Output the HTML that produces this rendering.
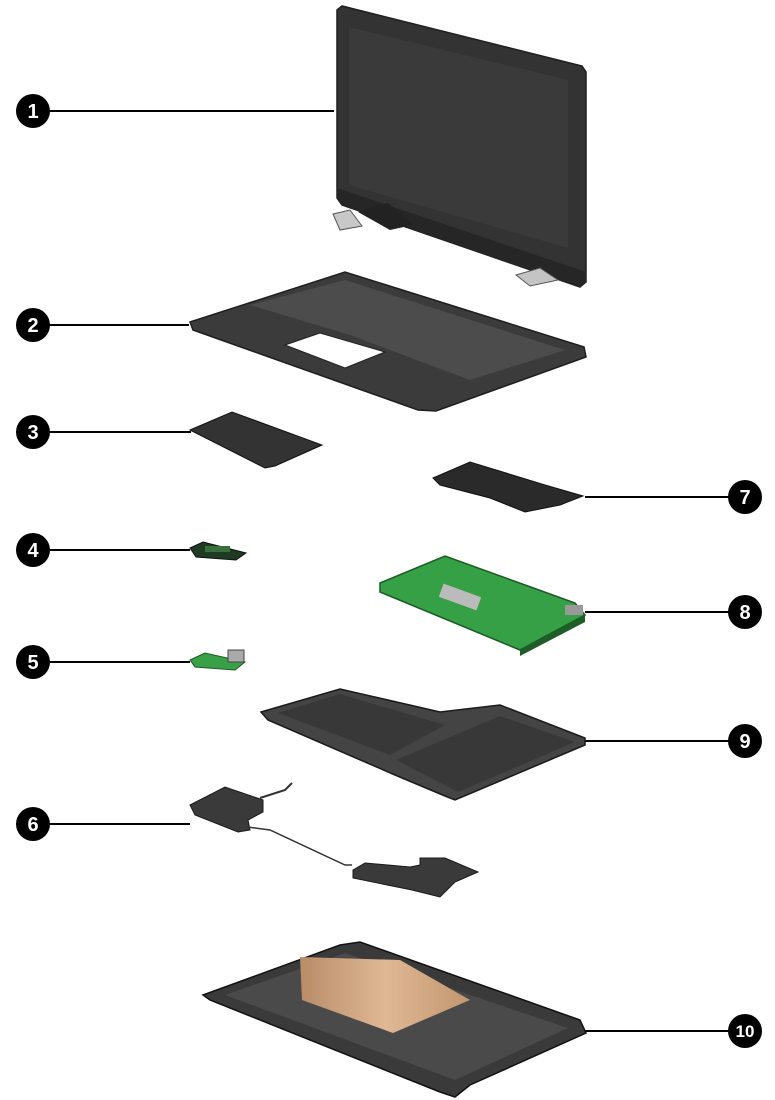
<!DOCTYPE html>
<html><head><meta charset="utf-8"><style>
html,body{margin:0;padding:0;background:#fff;}
svg{display:block;}
text{font-family:"Liberation Sans",sans-serif;font-weight:bold;fill:#fff;text-anchor:middle;}
</style></head><body>
<svg width="775" height="1100" viewBox="0 0 775 1100" xmlns="http://www.w3.org/2000/svg">
<defs>
<linearGradient id="cu" x1="0" y1="0" x2="1" y2="0"><stop offset="0" stop-color="#b98c68"/><stop offset="0.5" stop-color="#e0b894"/><stop offset="1" stop-color="#c29670"/></linearGradient>
</defs>
<g stroke="#000" stroke-width="2">
<line x1="40" y1="111" x2="334" y2="111"/>
<line x1="40" y1="325" x2="189" y2="325"/>
<line x1="40" y1="432" x2="191" y2="432"/>
<line x1="40" y1="550" x2="190" y2="550"/>
<line x1="40" y1="662" x2="190" y2="662"/>
<line x1="40" y1="824" x2="190" y2="824"/>
<line x1="585" y1="497" x2="735" y2="497"/>
<line x1="585" y1="612" x2="735" y2="612"/>
<line x1="585" y1="741" x2="735" y2="741"/>
<line x1="585" y1="1031" x2="735" y2="1031"/>
</g>
<!-- 1 display -->
<polygon points="337,10 342,6 582,66 586,72 586,282 580,287 342,205 337,198" fill="#333" stroke="#1e1e1e" stroke-width="1.5"/>
<polygon points="349,27 568,80 568,248 349,185" fill="#3a3a3a"/>
<polygon points="337,198 342,205 580,287 586,282 586,272 337,188" fill="#262626"/>
<polygon points="333,214 350,210 362,226 340,230" fill="#c8c8c8" stroke="#555"/>
<polygon points="358,212 388,203 413,225 390,230" fill="#222"/>
<polygon points="516,275 540,268 558,280 530,286" fill="#c4c4c4" stroke="#555"/>
<!-- 2 keyboard deck -->
<polygon points="190,322 345,272 584,347 586,357 436,411 418,410 193,330" fill="#3b3b3b" stroke="#1e1e1e" stroke-width="1.5"/>
<polygon points="250,305 345,280 565,350 470,380 350,335" fill="#4c4c4c"/>
<polygon points="285,345 320,333 385,352 345,368" fill="#fff" stroke="#222"/>
<!-- 3 touchpad -->
<polygon points="190,430 232,412 322,445 275,466 265,468" fill="#333" stroke="#111"/>
<!-- 7 shield -->
<polygon points="433,478 470,462 545,485 583,496 560,505 525,512 490,498 440,485" fill="#2a2a2a" stroke="#111"/>
<!-- 4 card -->
<polygon points="190,548 203,542 246,553 236,560 196,557" fill="#1e3a22" stroke="#111"/>
<rect x="205" y="546" width="25" height="6" fill="#3a6e3c"/>
<!-- 8 motherboard -->
<polygon points="380,583 445,556 575,603 585,615 520,650 380,592" fill="#35a045" stroke="#1a5a22" stroke-width="1.5"/>
<polygon points="520,650 585,615 585,622 520,656" fill="#1e5d28"/>
<rect x="440" y="590" width="40" height="14" fill="#bbb" transform="rotate(20 460 597)"/>
<rect x="565" y="605" width="18" height="10" fill="#999"/>
<!-- 5 card -->
<polygon points="190,660 205,653 245,662 235,670 195,667" fill="#3aa048" stroke="#1a5a22"/>
<rect x="228" y="650" width="16" height="12" fill="#aaa" stroke="#444"/>
<!-- 9 battery -->
<polygon points="261,712 340,689 440,712 500,705 585,738 585,745 455,800 445,796 395,775 268,720" fill="#444" stroke="#1a1a1a" stroke-width="1.5"/>
<polygon points="278,713 340,694 445,725 390,755" fill="#383838"/>
<polygon points="396,760 500,716 575,742 458,792" fill="#383838"/>
<!-- 6 speakers -->
<polygon points="190,805 225,787 263,800 263,812 248,820 250,830 238,832 195,815" fill="#3a3a3a" stroke="#1a1a1a"/>
<path d="M260,798 L285,790 L292,783" stroke="#333" stroke-width="2" fill="none"/>
<path d="M247,827 L270,830 L345,865 L352,865" stroke="#333" stroke-width="1.5" fill="none"/>
<polygon points="353,870 365,863 410,867 420,865 420,858 445,858 478,872 455,882 440,897 412,890 353,878" fill="#3a3a3a" stroke="#1a1a1a"/>
<!-- 10 bottom cover -->
<polygon points="203,995 340,945 360,942 580,1020 586,1033 470,1085 455,1097 440,1092 210,1000" fill="#3a3a3a" stroke="#111" stroke-width="1.5"/>
<polygon points="225,995 345,953 568,1028 455,1080" fill="#4a4a4a"/>
<polygon points="300,957 400,960 470,1000 393,1033 302,1000" fill="url(#cu)"/>
<!-- callouts -->
<g fill="#000">
<circle cx="33" cy="111" r="17"/><circle cx="33" cy="325" r="17"/><circle cx="33" cy="432" r="17"/>
<circle cx="33" cy="550" r="17"/><circle cx="33" cy="662" r="17"/><circle cx="33" cy="824" r="17"/>
<circle cx="745" cy="497" r="17"/><circle cx="745" cy="612" r="17"/><circle cx="745" cy="741" r="17"/>
<circle cx="745" cy="1031" r="17"/>
</g>
<g font-size="20">
<text x="33" y="118">1</text><text x="33" y="332">2</text><text x="33" y="439">3</text>
<text x="33" y="557">4</text><text x="33" y="669">5</text><text x="33" y="831">6</text>
<text x="745" y="504">7</text><text x="745" y="619">8</text><text x="745" y="748">9</text>
<text x="745" y="1037" font-size="17">10</text>
</g>
</svg>
</body></html>
